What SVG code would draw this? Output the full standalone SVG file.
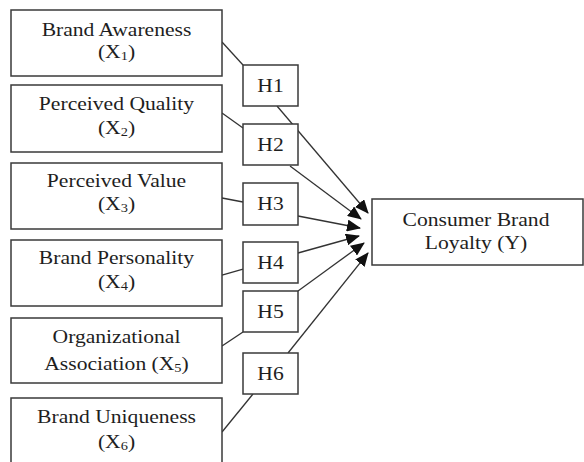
<svg xmlns="http://www.w3.org/2000/svg" width="584" height="462" viewBox="0 0 584 462">
<style>
.box{fill:#fff;stroke:#3a3a3a;stroke-width:1.5}
.ln{fill:none;stroke:#333;stroke-width:1.3}
text{font-family:"Liberation Serif","Times New Roman",serif;font-size:18px;fill:#1e1e1e;text-anchor:middle}
.sub{font-size:12px}
</style>
<defs>
<marker id="ah" markerUnits="userSpaceOnUse" markerWidth="14" markerHeight="12" viewBox="0 0 14 12" refX="13" refY="6" orient="auto">
<path d="M0,0 L14,6 L0,12 Z" fill="#111"/>
</marker>
</defs>
<rect width="584" height="462" fill="#fff"/>
<g id="connectors">
<line class="ln" x1="222" y1="42" x2="243" y2="65"/>
<line class="ln" x1="222" y1="113" x2="243" y2="128"/>
<line class="ln" x1="222" y1="198" x2="243" y2="202"/>
<line class="ln" x1="222" y1="275" x2="243" y2="269"/>
<line class="ln" x1="222" y1="346" x2="243" y2="332"/>
<line class="ln" x1="222" y1="432" x2="253" y2="394"/>
<line class="ln" x1="277" y1="106" x2="368" y2="213" marker-end="url(#ah)"/>
<line class="ln" x1="290" y1="166" x2="361" y2="219" marker-end="url(#ah)"/>
<line class="ln" x1="298" y1="216" x2="360" y2="228" marker-end="url(#ah)"/>
<line class="ln" x1="298" y1="253" x2="359" y2="236" marker-end="url(#ah)"/>
<line class="ln" x1="298" y1="291" x2="364" y2="243" marker-end="url(#ah)"/>
<line class="ln" x1="288" y1="353" x2="368" y2="253" marker-end="url(#ah)"/>
</g>
<g id="x1">
<rect class="box" x="11" y="10" width="211" height="66"/>
<text transform="translate(116.5,36) scale(1.2,1)">Brand Awareness</text>
<text transform="translate(116.5,58) scale(1.2,1)">(X<tspan class="sub" dy="2">1</tspan><tspan dy="-2">)</tspan></text>
</g>
<g id="x2">
<rect class="box" x="11" y="85" width="211" height="67"/>
<text transform="translate(116.5,110) scale(1.2,1)">Perceived Quality</text>
<text transform="translate(116.5,134) scale(1.2,1)">(X<tspan class="sub" dy="2">2</tspan><tspan dy="-2">)</tspan></text>
</g>
<g id="x3">
<rect class="box" x="11" y="163" width="211" height="66"/>
<text transform="translate(116.5,187) scale(1.2,1)">Perceived Value</text>
<text transform="translate(116.5,210) scale(1.2,1)">(X<tspan class="sub" dy="2">3</tspan><tspan dy="-2">)</tspan></text>
</g>
<g id="x4">
<rect class="box" x="11" y="240" width="211" height="66"/>
<text transform="translate(116.5,264) scale(1.2,1)">Brand Personality</text>
<text transform="translate(116.5,288) scale(1.2,1)">(X<tspan class="sub" dy="2">4</tspan><tspan dy="-2">)</tspan></text>
</g>
<g id="x5">
<rect class="box" x="11" y="318" width="211" height="65"/>
<text transform="translate(116.5,343) scale(1.2,1)">Organizational</text>
<text transform="translate(116.5,370) scale(1.2,1)">Association (X<tspan class="sub" dy="2">5</tspan><tspan dy="-2">)</tspan></text>
</g>
<g id="x6">
<rect class="box" x="11" y="398" width="211" height="72"/>
<text transform="translate(116.5,423) scale(1.2,1)">Brand Uniqueness</text>
<text transform="translate(116.5,448) scale(1.2,1)">(X<tspan class="sub" dy="2">6</tspan><tspan dy="-2">)</tspan></text>
</g>
<g id="h1"><rect class="box" x="243" y="65" width="55" height="41"/><text transform="translate(270.5,91.5) scale(1.2,1)">H1</text></g>
<g id="h2"><rect class="box" x="243" y="124" width="55" height="41"/><text transform="translate(270.5,150.5) scale(1.2,1)">H2</text></g>
<g id="h3"><rect class="box" x="243" y="183" width="55" height="42"/><text transform="translate(270.5,209.5) scale(1.2,1)">H3</text></g>
<g id="h4"><rect class="box" x="243" y="242" width="55" height="41"/><text transform="translate(270.5,268.5) scale(1.2,1)">H4</text></g>
<g id="h5"><rect class="box" x="243" y="291" width="55" height="41"/><text transform="translate(270.5,317.5) scale(1.2,1)">H5</text></g>
<g id="h6"><rect class="box" x="243" y="353" width="55" height="41"/><text transform="translate(270.5,379.5) scale(1.2,1)">H6</text></g>
<g id="y">
<rect class="box" x="372" y="199" width="211" height="66"/>
<text transform="translate(476,226) scale(1.2,1)">Consumer Brand</text>
<text transform="translate(476,248.5) scale(1.2,1)">Loyalty (Y)</text>
</g>
</svg>
